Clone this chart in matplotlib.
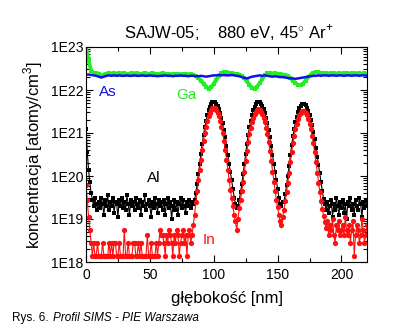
import numpy as np
import matplotlib
matplotlib.use("Agg")
import matplotlib.pyplot as plt
from matplotlib.ticker import FuncFormatter, LogLocator, MultipleLocator

plt.rcParams['font.family'] = ['Liberation Sans', 'DejaVu Sans']
plt.rcParams['mathtext.fontset'] = 'custom'
plt.rcParams['mathtext.rm'] = 'Liberation Sans'

# depth grids [nm]
depth_fine = np.arange(0, 221, 1)      # Al, In
depth_coarse = np.arange(0, 221, 2)    # As, Ga

# log10 of concentration [atoms/cm3]
log_ga = [
    22.98, 22.7, 22.45, 22.4, 22.39, 22.38, 22.33, 22.36, 22.38, 22.4,
    22.38, 22.39, 22.37, 22.4, 22.38, 22.39, 22.37, 22.38, 22.4, 22.38,
    22.39, 22.37, 22.38, 22.4, 22.38, 22.37, 22.39, 22.38, 22.37, 22.38,
    22.39, 22.37, 22.38, 22.36, 22.38, 22.37, 22.38, 22.36, 22.37, 22.38,
    22.36, 22.37, 22.35, 22.33, 22.28, 22.22, 22.15, 22.08, 22.03, 22.06,
    22.14, 22.24, 22.33, 22.39, 22.41, 22.42, 22.4, 22.39, 22.38, 22.37,
    22.36, 22.33, 22.28, 22.2, 22.12, 22.05, 22.03, 22.08, 22.16, 22.26,
    22.34, 22.39, 22.4, 22.38, 22.39, 22.37, 22.38, 22.36, 22.35, 22.33,
    22.28, 22.22, 22.16, 22.12, 22.11, 22.15, 22.22, 22.3, 22.36, 22.4,
    22.42, 22.41, 22.4, 22.39, 22.4, 22.38, 22.39, 22.4, 22.38, 22.39,
    22.38, 22.4, 22.39, 22.38, 22.39, 22.4, 22.38, 22.39, 22.38, 22.39, 22.38,
]

log_as = [
    22.36, 22.36, 22.35, 22.34, 22.33, 22.31, 22.29, 22.31, 22.33, 22.34,
    22.33, 22.34, 22.33, 22.34, 22.33, 22.33, 22.34, 22.33, 22.33, 22.34,
    22.33, 22.33, 22.34, 22.33, 22.33, 22.34, 22.33, 22.33, 22.32, 22.33,
    22.33, 22.34, 22.33, 22.33, 22.32, 22.33, 22.33, 22.34, 22.33, 22.33,
    22.32, 22.33, 22.33, 22.32, 22.32, 22.33, 22.32, 22.31, 22.32, 22.33,
    22.34, 22.34, 22.35, 22.34, 22.35, 22.34, 22.34, 22.35, 22.34, 22.33,
    22.32, 22.3, 22.28, 22.27, 22.29, 22.31, 22.32, 22.33, 22.34, 22.33,
    22.34, 22.33, 22.32, 22.31, 22.32, 22.31, 22.3, 22.3, 22.29, 22.28,
    22.27, 22.27, 22.26, 22.27, 22.28, 22.29, 22.3, 22.31, 22.32, 22.33,
    22.33, 22.34, 22.33, 22.34, 22.34, 22.33, 22.34, 22.34, 22.33, 22.34,
    22.34, 22.33, 22.34, 22.34, 22.33, 22.34, 22.34, 22.33, 22.34, 22.34, 22.33,
]

log_al = [
    21.1, 20.55, 20.15, 19.85, 19.6, 19.45, 19.3, 19.5, 19.35, 19.2,
    19.4, 19.25, 19.5, 19.35, 19.1, 19.45, 19.3, 19.55, 19.2, 19.4,
    19.3, 19.5, 19.15, 19.4, 19.35, 19.05, 19.45, 19.3, 19.5, 19.25,
    19.4, 19.2, 19.55, 19.35, 19.1, 19.45, 19.3, 19.4, 19.2, 19.5,
    19.35, 19.25, 19.45, 19.1, 19.4, 19.3, 19.55, 19.2, 19.35, 19.45,
    19.3, 19.05, 19.4, 19.25, 19.5, 19.35, 19.15, 19.45, 19.3, 19.4,
    19.2, 19.45, 19.1, 19.35, 19.5, 19.25, 19.4, 19.0, 19.3, 19.45,
    19.2, 19.4, 19.1, 19.35, 19.5, 19.25, 19.45, 19.3, 19.15, 19.4,
    19.3, 19.45, 19.25, 19.4, 19.35, 19.45, 19.6, 19.82, 20.04, 20.27,
    20.52, 20.75, 20.96, 21.14, 21.29, 21.42, 21.53, 21.61, 21.67, 21.71,
    21.72, 21.71, 21.68, 21.63, 21.56, 21.47, 21.35, 21.23, 21.07, 20.9,
    20.7, 20.49, 20.29, 20.1, 19.9, 19.7, 19.5, 19.35, 19.25, 19.3,
    19.45, 19.62, 19.82, 20.04, 20.27, 20.52, 20.75, 20.96, 21.14, 21.29,
    21.42, 21.53, 21.61, 21.67, 21.71, 21.72, 21.71, 21.68, 21.63, 21.56,
    21.47, 21.35, 21.23, 21.07, 20.9, 20.7, 20.49, 20.29, 20.1, 19.9,
    19.7, 19.5, 19.35, 19.3, 19.4, 19.4, 19.58, 19.78, 20.0, 20.23,
    20.48, 20.71, 20.92, 21.1, 21.25, 21.38, 21.49, 21.57, 21.63, 21.67,
    21.68, 21.67, 21.64, 21.59, 21.52, 21.43, 21.31, 21.19, 21.03, 20.86,
    20.66, 20.45, 20.25, 20.06, 19.86, 19.66, 19.46, 19.35, 19.2, 19.4,
    19.15, 19.3, 19.45, 19.05, 19.35, 19.2, 19.5, 19.3, 19.1, 19.4,
    19.25, 19.45, 19.15, 19.35, 19.0, 19.4, 19.3, 19.5, 19.2, 19.35,
    19.1, 19.45, 19.3, 19.2, 19.5, 19.35, 19.05, 19.4, 19.25, 19.45, 19.3,
]

log_in = [
    19.78, 19.45, 19.05, 18.75, 18.45, 18.15, 18.45, 18.15, 18.15, 18.45,
    18.15, 18.15, 18.15, 18.45, 18.15, 18.15, 18.15, 18.15, 18.45, 18.15,
    18.45, 18.15, 18.45, 18.45, 18.15, 18.15, 18.45, 18.15, 18.15, 18.15,
    18.75, 18.15, 18.15, 18.45, 18.15, 18.15, 18.15, 18.45, 18.45, 18.15,
    18.15, 18.45, 18.15, 18.45, 18.15, 18.15, 18.15, 18.15, 18.62, 18.15,
    18.15, 18.45, 18.15, 18.15, 18.15, 18.45, 18.15, 18.45, 18.75, 18.62,
    18.62, 18.45, 18.15, 18.62, 18.45, 18.75, 18.62, 18.45, 18.15, 18.62,
    18.45, 18.75, 18.62, 18.15, 18.45, 18.62, 18.75, 18.45, 18.62, 18.15,
    18.62, 18.75, 18.45, 18.62, 18.85, 19.1, 19.4, 19.65, 19.9, 20.13,
    20.38, 20.61, 20.82, 21.0, 21.15, 21.28, 21.39, 21.47, 21.53, 21.57,
    21.58, 21.57, 21.53, 21.47, 21.39, 21.28, 21.15, 20.99, 20.82, 20.61,
    20.38, 20.13, 19.9, 19.68, 19.48, 19.3, 19.1, 18.95, 18.75, 19.0,
    19.25, 19.45, 19.65, 19.87, 20.1, 20.35, 20.58, 20.79, 20.97, 21.12,
    21.25, 21.36, 21.44, 21.5, 21.54, 21.55, 21.54, 21.5, 21.44, 21.36,
    21.25, 21.12, 20.97, 20.79, 20.58, 20.35, 20.1, 19.87, 19.65, 19.45,
    19.27, 19.1, 18.95, 18.85, 19.05, 19.22, 19.42, 19.62, 19.84, 20.07,
    20.32, 20.55, 20.76, 20.94, 21.09, 21.22, 21.33, 21.41, 21.47, 21.51,
    21.52, 21.51, 21.47, 21.41, 21.33, 21.22, 21.09, 20.94, 20.76, 20.55,
    20.32, 20.07, 19.84, 19.62, 19.42, 19.24, 19.07, 18.92, 18.8, 18.95,
    18.62, 18.85, 18.75, 19.0, 18.62, 18.45, 18.85, 18.75, 18.95, 18.62,
    18.75, 18.85, 18.62, 19.05, 18.75, 18.62, 18.85, 18.45, 18.75, 18.95,
    18.15, 18.62, 18.85, 18.75, 18.45, 18.62, 19.0, 18.75, 18.45, 18.62, 18.85,
]

fig = plt.figure(figsize=(4.07, 3.29), dpi=100)
ax = fig.add_axes([86 / 407, 67 / 329, 281 / 407, 215 / 329])

ga = 10 ** np.array(log_ga)
as_ = 10 ** np.array(log_as)
al = 10 ** np.array(log_al)
in_ = 10 ** np.array(log_in)

ax.plot(depth_coarse, ga, color='#22ee22', lw=2.8, marker='s', ms=2.8, mew=0)
ax.plot(depth_coarse, as_, color='#1010ee', lw=1.8)
ax.plot(depth_fine, al, color='black', lw=0.8, marker='s', ms=2.6, mew=0)
ax.plot(depth_fine, in_, color='#ff1010', lw=0.8, marker='o', ms=3.8, mew=0)

ax.set_yscale('log')
ax.set_xlim(0, 220)
ax.set_ylim(1e18, 1e23)

# axis ticks, Origin style
ax.xaxis.set_major_locator(MultipleLocator(50))
ax.xaxis.set_minor_locator(MultipleLocator(25))
ax.yaxis.set_major_locator(LogLocator(base=10, numticks=10))
ax.yaxis.set_minor_locator(LogLocator(base=10, subs=np.arange(2, 10), numticks=20))
ax.yaxis.set_major_formatter(FuncFormatter(lambda v, p: "1E%d" % int(round(np.log10(v)))))
ax.tick_params(which='both', direction='in', top=True, right=True, labelsize=10, width=0.8)
ax.tick_params(which='major', length=5)
ax.tick_params(which='minor', length=3)
ax.tick_params(axis='x', pad=4)
ax.tick_params(axis='y', pad=2)
for s in ax.spines.values():
    s.set_linewidth(0.8)

# series labels
ax.text(99 / 407, 1 - 92 / 329, "As", color='#1010ee', fontsize=11, va='center', transform=fig.transFigure)
ax.text(176 / 407, 1 - 95 / 329, "Ga", color='#22ee22', fontsize=11, va='center', transform=fig.transFigure)
ax.text(147 / 407, 1 - 178 / 329, "Al", color='black', fontsize=11, va='center', transform=fig.transFigure)
ax.text(203 / 407, 1 - 240 / 329, "In", color='#ff1010', fontsize=11, va='center', transform=fig.transFigure)

fig.text(229 / 407, 1 - 33 / 329, r"SAJW-05;    880 eV, 45$^{\circ}$ Ar$^{+}$",
         fontsize=12, ha='center', va='center')
fig.text(227 / 407, 1 - 299 / 329, "głębokość [nm]", fontsize=12, ha='center', va='center')
fig.text(33 / 407, 1 - 155 / 329, r"koncentracja [atomy/cm$^{3}$]", fontsize=12,
         ha='center', va='center', rotation=90)

fig.text(12 / 407, 1 - 318 / 329, "Rys. 6.", fontsize=8.5, va='center')
fig.text(53 / 407, 1 - 318 / 329, "Profil SIMS - PIE Warszawa", fontsize=8.5,
         va='center', style='italic')

fig.savefig("out.png", dpi=100)
